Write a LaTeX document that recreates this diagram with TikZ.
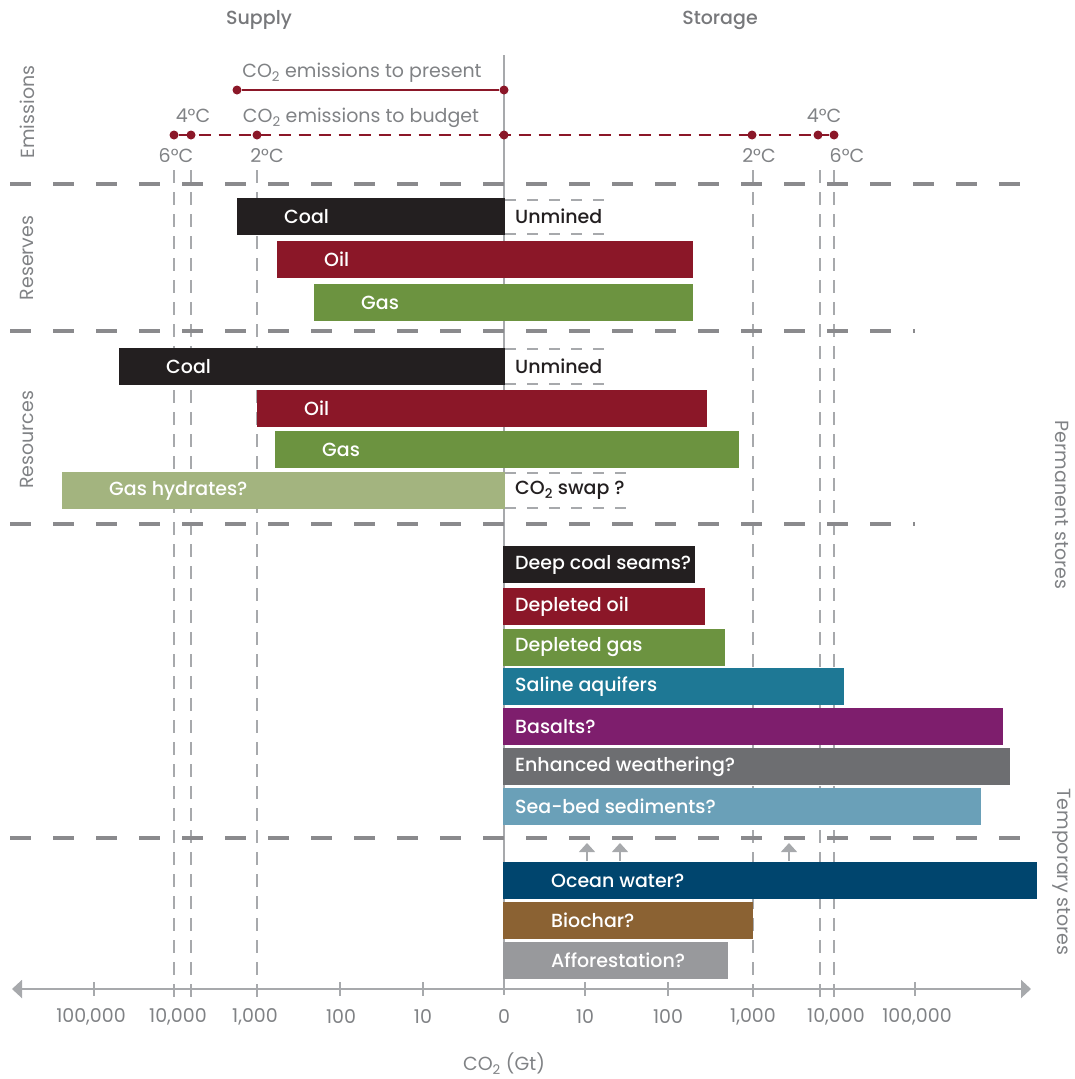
\documentclass[tikz,border=0pt]{standalone}
\usepackage{fontspec}
\setmainfont{Poppins}[BoldFont={Poppins Medium}]
\usetikzlibrary{arrows.meta}
\definecolor{coalc}{HTML}{231F20}
\definecolor{oilc}{HTML}{8B1728}
\definecolor{gasc}{HTML}{6C9340}
\definecolor{hydc}{HTML}{A3B47F}
\definecolor{salc}{HTML}{1E7895}
\definecolor{basc}{HTML}{7E1E6D}
\definecolor{enhc}{HTML}{6D6E71}
\definecolor{seac}{HTML}{6AA0B8}
\definecolor{ocnc}{HTML}{00456E}
\definecolor{bioc}{HTML}{8B6233}
\definecolor{affc}{HTML}{98999C}
\definecolor{sepgray}{HTML}{8A8A8D}
\definecolor{lgray}{HTML}{A7A9AC}
\definecolor{tgray}{HTML}{808285}
\definecolor{hgray}{HTML}{77787B}
\definecolor{dotred}{HTML}{8B1728}
\begin{document}
\begin{tikzpicture}[x=1pt,y=-1pt,
  sep/.style={line width=4.5pt,draw=sepgray,dash pattern=on 21pt off 22pt},
  vdash/.style={line width=2pt,draw=lgray,dash pattern=on 13pt off 9pt},
  boxdash/.style={line width=2pt,draw=lgray,dash pattern=on 11pt off 11pt},
  barlabel/.style={text=white,font=\fontsize{19}{22}\selectfont\bfseries,anchor=west,inner sep=0pt},
  darklabel/.style={text=coalc,font=\fontsize{19}{22}\selectfont\bfseries,anchor=west,inner sep=0pt},
  graylabel/.style={text=tgray,font=\fontsize{19}{22}\selectfont,inner sep=0pt},
  sidelabel/.style={text=tgray,font=\fontsize{19}{22}\selectfont,inner sep=0pt},
  headlabel/.style={text=hgray,font=\fontsize{19}{22}\selectfont\bfseries,inner sep=0pt},
  axlabel/.style={text=tgray,font=\fontsize{19}{22}\selectfont,inner sep=0pt},
  rdot/.style={circle,fill=dotred,inner sep=0pt,minimum size=9pt},
  uparrow/.style={draw=lgray,line width=1.5pt,-{Triangle[length=9pt,width=16pt]}}
]
\useasboundingbox (0,0) rectangle (1075,1079);

% headings
\node[headlabel] (supply) at (259,20) {Supply};
\node[headlabel] (storage) at (720,20) {Storage};

% zero line
\draw[lgray,line width=1.2pt] (504,55) -- (504,995);

% vertical dashed lines
\foreach \xx in {174,191,257,753,820,834}
  \draw[vdash] (\xx,170) -- (\xx,998);

% separators
\draw[sep] (10,184) -- (1040,184);
\draw[sep] (10,331) -- (915,331);
\draw[sep] (10,524) -- (915,524);
\draw[sep] (10,838) -- (1040,838);

% side labels
\node[sidelabel,rotate=90] (emis) at (27,112) {Emissions};
\node[sidelabel,rotate=90] (resv) at (27,258) {Reserves};
\node[sidelabel,rotate=90] (reso) at (27,440) {Resources};
\node[sidelabel,rotate=-90] (perm) at (1062,505) {Permanent stores};
\node[sidelabel,rotate=-90] (temp) at (1062,872) {Temporary stores};

% emissions
\node[graylabel] (present) at (362,73) {CO\textsubscript{2} emissions to present};
\node[graylabel] (budget) at (361,118) {CO\textsubscript{2} emissions to budget};
\node[rdot] (p0) at (237,90) {};
\node[rdot] (p1) at (504,90) {};
\draw[dotred,line width=1.6pt] (p0) -- (p1);
\node[rdot] (b6l) at (174,135) {};
\node[rdot] (b4l) at (191,135) {};
\node[rdot] (b2l) at (257,135) {};
\node[rdot] (b0) at (504,135) {};
\node[rdot] (b2r) at (752,135) {};
\node[rdot] (b4r) at (818,135) {};
\node[rdot] (b6r) at (834,135) {};
\draw[dotred,line width=2.4pt,dash pattern=on 12pt off 8pt] (b6l) -- (b6r);
\node[graylabel] (t4l) at (193,116) {4°C};
\node[graylabel] (t6l) at (176,156) {6°C};
\node[graylabel] (t2l) at (267,156) {2°C};
\node[graylabel] (t2r) at (759,156) {2°C};
\node[graylabel] (t4r) at (824,116) {4°C};
\node[graylabel] (t6r) at (847,156) {6°C};

% reserves
\fill[coalc] (237,198) rectangle (505,235);
\fill[oilc] (277,241) rectangle (693,278);
\fill[gasc] (314,284) rectangle (693,321);
\node[barlabel] (rcoal) at (284,216.5) {Coal};
\node[barlabel] (roil) at (324,259.5) {Oil};
\node[barlabel] (rgas) at (361,302.5) {Gas};
\draw[boxdash] (505,200) -- (605,200);
\draw[boxdash] (505,234) -- (605,234);
\node[darklabel] (unm1) at (515,216.5) {Unmined};

% resources
\fill[coalc] (119,348) rectangle (505,385);
\fill[oilc] (257,390) rectangle (707,427);
\fill[gasc] (275,431) rectangle (739,468);
\fill[hydc] (62,472) rectangle (505,509);
\node[barlabel] (scoal) at (166,366.5) {Coal};
\node[barlabel] (soil) at (304,408.5) {Oil};
\node[barlabel] (sgas) at (322,449.5) {Gas};
\node[barlabel] (shyd) at (109,490.5) {Gas hydrates?};
\draw[boxdash] (505,349) -- (605,349);
\draw[boxdash] (505,384) -- (605,384);
\node[darklabel] (unm2) at (515,366.5) {Unmined};
\draw[boxdash] (505,473) -- (628,473);
\draw[boxdash] (505,508) -- (628,508);
\node[darklabel] (swap) at (515,490.5) {CO\textsubscript{2} swap ?};

% permanent stores
\fill[coalc] (503,546) rectangle (695,583);
\fill[oilc] (503,588) rectangle (705,625);
\fill[gasc] (503,629) rectangle (725,666);
\fill[salc] (503,668) rectangle (844,705);
\fill[basc] (503,708) rectangle (1003,745);
\fill[enhc] (503,748) rectangle (1010,785);
\fill[seac] (503,788) rectangle (981,825);
\node[barlabel] (deep) at (515,564.5) {Deep coal seams?};
\node[barlabel] (doil) at (515,606.5) {Depleted oil};
\node[barlabel] (dgas) at (515,647.5) {Depleted gas};
\node[barlabel] (sal) at (515,686.5) {Saline aquifers};
\node[barlabel] (bas) at (515,726.5) {Basalts?};
\node[barlabel] (enh) at (515,766.5) {Enhanced weathering?};
\node[barlabel] (sea) at (515,806.5) {Sea-bed sediments?};

% up arrows
\coordinate (a1s) at (587,861); \coordinate (a1e) at (587,843);
\coordinate (a2s) at (620,861); \coordinate (a2e) at (620,843);
\coordinate (a3s) at (789,861); \coordinate (a3e) at (789,843);
\draw[uparrow] (a1s) -- (a1e);
\draw[uparrow] (a2s) -- (a2e);
\draw[uparrow] (a3s) -- (a3e);

% temporary stores
\fill[ocnc] (503,862) rectangle (1037,899);
\fill[bioc] (503,902) rectangle (753,939);
\fill[affc] (503,942) rectangle (728,979);
\node[barlabel] (ocn) at (551,880.5) {Ocean water?};
\node[barlabel] (bio) at (551,920.5) {Biochar?};
\node[barlabel] (aff) at (551,960.5) {Afforestation?};

% axis
\coordinate (axl) at (12,989);
\coordinate (axr) at (1031,989);
\draw[lgray,line width=2pt,{Triangle[length=10pt,width=18pt]}-{Triangle[length=10pt,width=18pt]}] (axl) -- (axr);
\foreach \xx in {94,340,423,585,668,915}
  \draw[lgray,line width=1.5pt] (\xx,982) -- (\xx,996);
\node[axlabel] (l1) at (91,1017) {100,000};
\node[axlabel] (l2) at (178,1017) {10,000};
\node[axlabel] (l3) at (255,1017) {1,000};
\node[axlabel] (l4) at (341,1017) {100};
\node[axlabel] (l5) at (423,1017) {10};
\node[axlabel] (l6) at (504,1017) {0};
\node[axlabel] (l7) at (585,1017) {10};
\node[axlabel] (l8) at (668,1017) {100};
\node[axlabel] (l9) at (753,1017) {1,000};
\node[axlabel] (l10) at (836,1017) {10,000};
\node[axlabel] (l11) at (917,1017) {100,000};
\node[axlabel] (co2) at (504,1064) {CO\textsubscript{2} (Gt)};
\end{tikzpicture}
\end{document}
